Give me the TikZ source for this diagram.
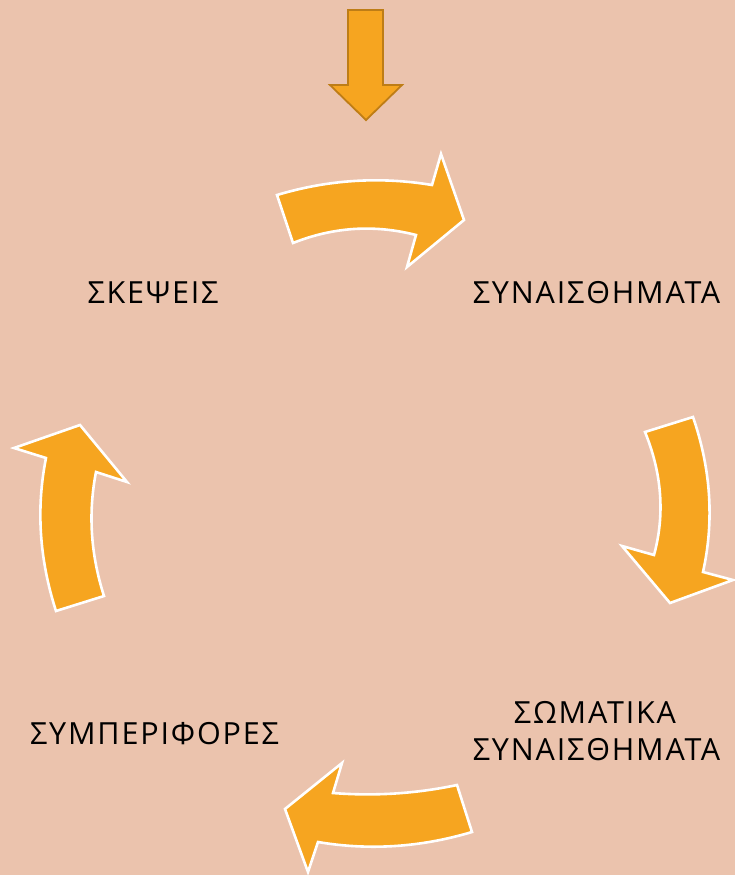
\documentclass[tikz,border=0pt]{standalone}
\usepackage{fontspec}
\setmainfont{Open Sans}[LetterSpace=6]
\definecolor{bgpeach}{RGB}{235,195,173}
\definecolor{arroworange}{RGB}{246,165,32}
\definecolor{arrowedge}{RGB}{190,125,22}
\tikzset{
  cyclearrow/.style={fill=arroworange, draw=white, line width=2.6pt, line join=miter},
  inputarrow/.style={fill=arroworange, draw=arrowedge, line width=1.8pt, line join=miter},
  label/.style={font=\fontsize{30.5}{37}\selectfont, text=black, inner sep=0pt, align=center}
}
\begin{document}
\begin{tikzpicture}[x=1pt, y=-1pt]
  % canvas
  \fill[bgpeach] (0,0) rectangle (735,875);
  \useasboundingbox (0,0) rectangle (735,875);

  % incoming arrow at the top
  \draw[inputarrow] (348,10) -- (383,10) -- (383,85) -- (402,85) -- (366,120)
    -- (330,85) -- (348,85) -- cycle;

  % curved arrow: thoughts -> emotions
  \draw[cyclearrow] (293,243) -- (277,195)
    .. controls (328,179.7) and (379.7,176.3) .. (432,185)
    -- (441,154) -- (464,220) -- (407,267) -- (416,235)
    .. controls (374.3,224.3) and (333.3,227) .. cycle;

  % curved arrow: emotions -> bodily sensations
  \draw[cyclearrow] (645,432) -- (693,417)
    .. controls (711,469.3) and (714.3,521) .. (703,572)
    -- (733,580) -- (670,603) -- (622,546) -- (654,555)
    .. controls (665,514.7) and (662,473.7) .. cycle;

  % curved arrow: bodily sensations -> behaviours
  \draw[cyclearrow] (457,785) -- (472,832)
    .. controls (420.7,847.3) and (369.3,850.7) .. (318,842)
    -- (308,872) -- (285,809) -- (342,763) -- (333,793)
    .. controls (374.3,796.3) and (415.7,793.7) .. cycle;

  % curved arrow: behaviours -> thoughts
  \draw[cyclearrow] (56,611) -- (104,596)
    .. controls (90.7,554.7) and (88,513.3) .. (96,472)
    -- (127,482) -- (80,425) -- (14,448) -- (46,458)
    .. controls (36,508.3) and (39.3,559.3) .. cycle;

  % stage labels
  \node[label, anchor=base] (thoughts) at (153,303) {ΣΚΕΨΕΙΣ};
  \node[label, anchor=base] (emotions) at (596.5,303) {ΣΥΝΑΙΣΘΗΜΑΤΑ};
  \node[label, anchor=base] (body1) at (595,723) {ΣΩΜΑΤΙΚΑ};
  \node[label, anchor=base] (body2) at (596.5,760) {ΣΥΝΑΙΣΘΗΜΑΤΑ};
  \node[label, anchor=base] (behaviour) at (154.5,744) {ΣΥΜΠΕΡΙΦΟΡΕΣ};
\end{tikzpicture}
\end{document}
